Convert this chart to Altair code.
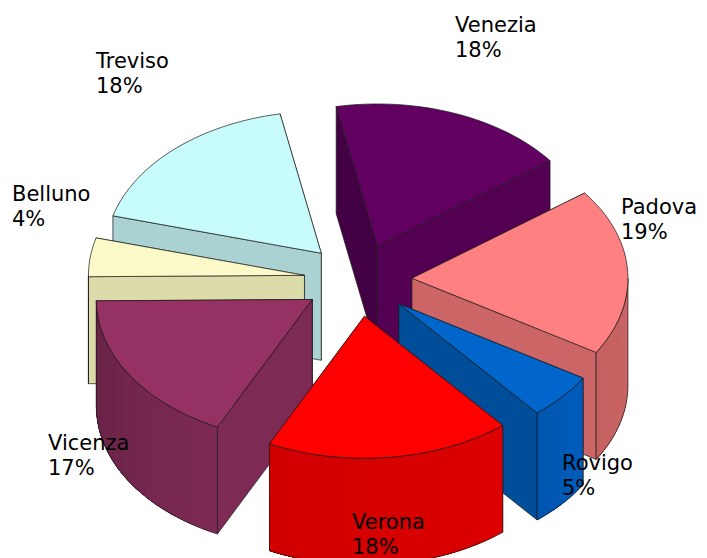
import math
import altair as alt

# ---- values ----
provinces = ["Venezia", "Padova", "Rovigo", "Verona", "Vicenza", "Belluno", "Treviso"]
shown_pct = [18, 19, 5, 18, 17, 4, 18]
shares = [17.8, 19.0, 5.2, 18.3, 17.6, 4.4, 17.7]

# ---- styles ----
top_colors = ["#620062", "#FF8080", "#0066CC", "#FF0000", "#963263", "#FBF9C8", "#C8FBFB"]
side_colors = ["#530053", "#CC6666", "#004D99", "#DD0000", "#7D2A54", "#DCDCAA", "#AAD2D2"]
back_colors = ["#440044", "#A35252", "#003D7A", "#B00000", "#642244", "#B0B088", "#88A8A8"]
curve_dark = ["#530053", "#C46060", "#0055AD", "#D00000", "#662244", "#DCDCAA", "#AAD2D2"]
curve_light = ["#530053", "#CC6666", "#005CBB", "#DD0000", "#7D2A54", "#DCDCAA", "#AAD2D2"]
draw_order = ["Venezia", "Treviso", "Belluno", "Vicenza", "Padova", "Rovigo", "Verona"]
label_spots = {
    "Venezia": (447, 24), "Padova": (613, 206), "Rovigo": (554, 462),
    "Verona": (344, 521), "Vicenza": (40, 442), "Belluno": (4, 193), "Treviso": (88, 60),
}

# ---- pie geometry (pixels inside the plot area) ----
CX, CY, RX, RY, DEPTH, START = 350, 272, 216, 142, 107, -11.0
EXPLODE_X, EXPLODE_Y = 54, 36.5
LINE = "#1a1a1a"


def on_ellipse(ox, oy, deg):
    t = math.radians(deg)
    return [ox + RX * math.sin(t), oy - RY * math.cos(t)]


def mix(a, b, f):
    ca = [int(a[i:i + 2], 16) for i in (1, 3, 5)]
    cb = [int(b[i:i + 2], 16) for i in (1, 3, 5)]
    return "#" + "".join(f"{round(x + (y - x) * f):02x}" for x, y in zip(ca, cb))


def poly(points, fill, stroke):
    ring = [list(p) for p in points]
    ring.append(ring[0])
    return {
        "type": "Feature",
        "geometry": {"type": "Polygon", "coordinates": [ring]},
        "properties": {"fill": fill, "stroke": stroke},
    }


def drop(p):
    return [p[0], p[1] + DEPTH]


def slice_faces(i, a0, a1):
    mid = (a0 + a1) / 2
    ox = CX + EXPLODE_X * math.sin(math.radians(mid))
    oy = CY - EXPLODE_Y * math.cos(math.radians(mid))
    apex = [ox, oy]
    faces = []

    p0, p1 = on_ellipse(ox, oy, a0), on_ellipse(ox, oy, a1)
    walls = [(p0, back_colors[i] if a1 < 90 else side_colors[i]), (p1, side_colors[i])]
    walls.sort(key=lambda w: w[0][1])
    for p, col in walls:
        faces.append(poly([apex, p, drop(p), drop(apex)], col, LINE))

    lo, hi = max(a0, 90.0), min(a1, 270.0)
    if hi > lo:
        n = max(2, int((hi - lo) / 2))
        angles = [lo + (hi - lo) * k / n for k in range(n + 1)]
        edge = [on_ellipse(ox, oy, a) for a in angles]
        # overlapping bands, so no seams show between them
        for k in range(n):
            col = mix(curve_light[i], curve_dark[i], k / n)
            rest = edge[k:]
            faces.append(poly(rest + [drop(p) for p in reversed(rest)], col, "transparent"))
        outline = edge + [drop(p) for p in reversed(edge)]
        faces.append(poly(outline, "transparent", LINE))

    n = max(4, int((a1 - a0) / 2))
    rim = [on_ellipse(ox, oy, a0 + (a1 - a0) * k / n) for k in range(n + 1)]
    faces.append(poly([apex] + rim, top_colors[i], LINE))
    return faces


total = sum(shares)
spans = {}
angle = START
for i, name in enumerate(provinces):
    step = shares[i] / total * 360
    spans[name] = (i, angle, angle + step)
    angle += step

features = []
for name in draw_order:
    features.extend(slice_faces(*spans[name]))

pie = alt.Chart(alt.Data(values=features)).mark_geoshape(strokeWidth=0.7).encode(
    fill=alt.Fill("properties.fill:N", scale=None, legend=None),
    stroke=alt.Stroke("properties.stroke:N", scale=None, legend=None),
).project(type="identity", scale=1, translate=[0, 0])

layers = [pie]
for name, pct in zip(provinces, shown_pct):
    sx, sy = label_spots[name]
    layers.append(
        alt.Chart(alt.Data(values=[{"t": f"{name}\n{pct}%"}])).mark_text(
            font="DejaVu Sans", fontSize=21, align="left", baseline="alphabetic",
            lineBreak="\n", lineHeight=25, color="#000000",
        ).encode(x=alt.value(sx), y=alt.value(sy), text="t:N")
    )

chart = alt.layer(*layers).properties(
    width=691, height=550, padding=0,
    autosize=alt.AutoSizeParams(type="none"),
).configure_view(stroke=None)

chart.save("out.html", embed_options={"renderer": "svg", "actions": False})
